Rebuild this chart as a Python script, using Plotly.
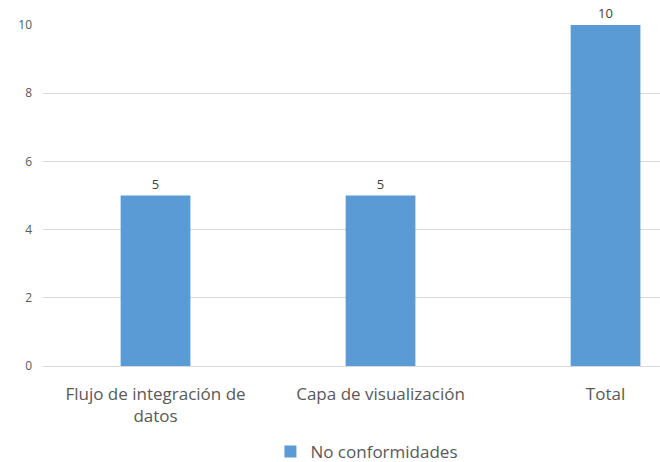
import plotly.graph_objects as go

# data
categories = ["Flujo de integración de<br>datos", "Capa de visualización", "Total"]
no_conformidades = [5, 5, 10]
y_ticks = [0, 2, 4, 6, 8, 10]

fig = go.Figure()
fig.add_trace(go.Bar(
    x=categories,
    y=no_conformidades,
    name="No conformidades",
    marker=dict(color="#5B9BD5", line=dict(width=0)),
    width=0.31,
    text=no_conformidades,
    textposition="outside",
    textfont=dict(size=13, color="#404040"),
    cliponaxis=False,
))

fig.update_layout(
    width=660, height=462,
    margin=dict(l=43, r=0, t=25, b=96, autoexpand=False),
    paper_bgcolor="white",
    plot_bgcolor="white",
    font=dict(family="Open Sans, Noto Sans, sans-serif", color="#595959"),
    showlegend=True,
    legend=dict(
        orientation="h",
        x=0.525, xanchor="center",
        y=-0.252, yanchor="middle",
        itemwidth=30,
        font=dict(size=17, color="#595959"),
    ),
)

fig.update_xaxes(
    range=[-0.5, 2.242],
    showgrid=False,
    showline=False,
    zeroline=False,
    tickfont=dict(size=17, color="#595959"),
    ticklabelstandoff=16,
)
fig.update_yaxes(
    range=[0, 10],
    tickvals=y_ticks,
    showgrid=True,
    gridcolor="#d9d9d9",
    gridwidth=1,
    zeroline=True,
    zerolinecolor="#d9d9d9",
    zerolinewidth=1,
    showline=False,
    tickfont=dict(size=12, color="#595959"),
    ticklabelstandoff=10,
)

# drop the default 8px body margin so the figure sits at the window's corner
fig.write_html(
    "out.html",
    config={"displayModeBar": False},
    post_script="document.body.style.margin='0';",
)
